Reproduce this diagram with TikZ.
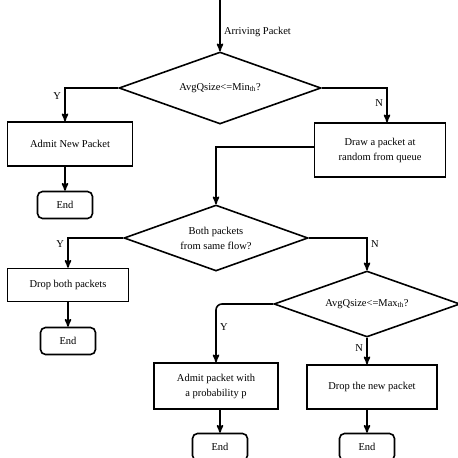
\documentclass[tikz,border=0pt]{standalone}
\usepackage{fontspec}
\setmainfont{Liberation Serif}
\usepackage{tikz}
\usetikzlibrary{arrows,calc}
\usetikzlibrary{positioning}
\usetikzlibrary{shapes}
\newcommand{\TikZscale}{1}
\newcommand{\px}{*\TikZscale pt}
\tikzset{every picture/.style={auto, >=stealth', font=\fontsize{10.5}{15}\selectfont}}
\tikzstyle{flow}		= [->, line width=1.6pt]
\tikzstyle{box}			= [draw, line width=1.6pt, align=center, inner sep=0pt]
\tikzstyle{ende}		= [draw, line width=1.6pt, rounded corners=5pt, inner sep=0pt, minimum width=55\px, minimum height=27\px]
\tikzstyle{frage}		= [draw, diamond, line width=1.6pt, align=center, inner sep=0pt, aspect=2.8]

\begin{document}
\begin{tikzpicture}
	\useasboundingbox (0,0) rectangle (458\px,-458\px);

	% Erste Abfrage
	\coordinate (start) at (220\px,0);
	\node[frage, minimum width=202\px, minimum height=72\px] (min) at (220\px,-88\px) {AvgQsize<=Min\textsubscript{th}?};
	\draw[flow] (start) -- node[pos=0.62, right]{Arriving Packet} (min);

	% Zweig Y
	\node[box, minimum width=125\px, minimum height=44\px] (admit) at (70\px,-144\px) {Admit New Packet};
	\node[ende] (end1) at (65\px,-205\px) {End};
	\draw[flow] (min.west) -| node[pos=0.62, left]{Y} (end1.north |- admit.north);
	\draw[flow] (admit.south -| end1.north) -- (end1.north);

	% Zweig N
	\node[box, minimum width=131\px, minimum height=54\px] (draw) at (380\px,-150\px) {Draw a packet at\\random from queue};
	\draw[flow] (min.east) -| node[pos=0.72, left]{N} ([xshift=7\px]draw.north);

	% Gleicher Fluss?
	\node[frage, minimum width=184\px, minimum height=66\px] (same) at (216\px,-238\px) {Both packets\\from same flow?};
	\draw[flow] ([yshift=3\px]draw.west) -| (same.north);

	\node[box, minimum width=121\px, minimum height=33\px] (dropboth) at (68\px,-285\px) {Drop both packets};
	\node[ende] (end2) at (68\px,-341\px) {End};
	\draw[flow] (same.west) -| node[pos=0.6, left]{Y} (dropboth.north);
	\draw[flow] (dropboth) -- (end2);

	% Zweite Abfrage
	\node[frage, minimum width=186\px, minimum height=66\px] (max) at (367\px,-304\px) {AvgQsize<=Max\textsubscript{th}?};
	\draw[flow] (same.east) -| node[pos=0.6, right]{N} (max.north);

	\node[box, minimum width=124\px, minimum height=46\px] (prob) at (216\px,-386\px) {Admit packet with\\a probability p};
	\node[ende] (end3) at (220\px,-447\px) {End};
	\draw[flow, rounded corners=6\px] (max.west) -| node[pos=0.7, right]{Y} (prob.north);
	\draw[flow] (prob.south -| end3.north) -- (end3.north);

	\node[box, minimum width=130\px, minimum height=44\px] (dropnew) at (372\px,-387\px) {Drop the new packet};
	\node[ende] (end4) at (367\px,-447\px) {End};
	\draw[flow] (max.south) -- node[pos=0.4, left]{N} (max.south |- dropnew.north);
	\draw[flow] (dropnew.south -| end4.north) -- (end4.north);
\end{tikzpicture}
\end{document}
